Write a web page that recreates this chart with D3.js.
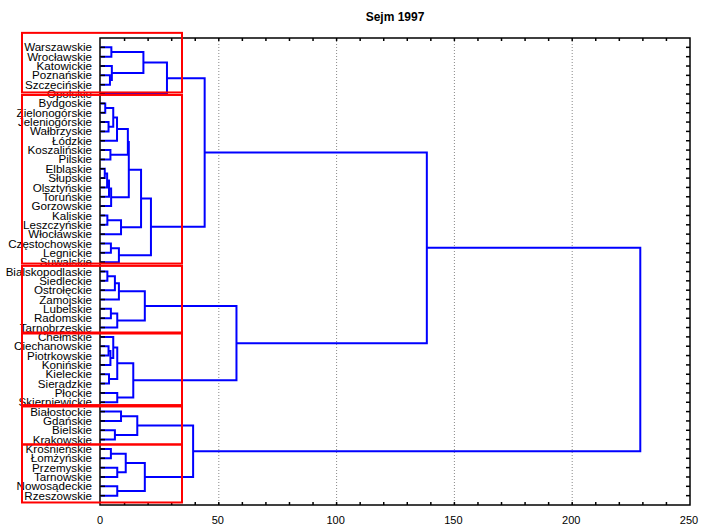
<!DOCTYPE html>
<html>
<head>
<meta charset="utf-8">
<script src="https://cdn.jsdelivr.net/npm/d3@7"></script>
<style>
body { margin: 0; background: #fff; }
text { font-family: "Liberation Sans", Arial, sans-serif; }
</style>
</head>
<body>
<div id="chartContainer"></div>
<script>
const width = 713;
const height = 525;
const marginTop = 38;
const marginRight = 23;
const marginBottom = 20;
const marginLeft = 100;

// leaf order top to bottom
const leaves = [
    "Warszawskie", "Wrocławskie", "Katowickie", "Poznańskie", "Szczecińskie",
    "Opolskie", "Bydgoskie", "Zielonogórskie", "Jeleniogórskie", "Wałbrzyskie",
    "Łódzkie", "Koszalińskie", "Pilskie", "Elbląskie", "Słupskie",
    "Olsztyńskie", "Toruńskie", "Gorzowskie", "Kaliskie", "Leszczyńskie",
    "Włocławskie", "Częstochowskie", "Legnickie", "Suwalskie", "Bialskopodlaskie",
    "Siedleckie", "Ostrołęckie", "Zamojskie", "Lubelskie", "Radomskie",
    "Tarnobrzeskie", "Chełmskie", "Ciechanowskie", "Piotrkowskie", "Konińskie",
    "Kieleckie", "Sieradzkie", "Płockie", "Skierniewickie", "Białostockie",
    "Gdańskie", "Bielskie", "Krakowskie", "Krośnieńskie", "Łomżyńskie",
    "Przemyskie", "Tarnowskie", "Nowosądeckie", "Rzeszowskie"
];

// linkage: [a, b, distance]; ids < 49 are leaves, merge k gets id 49 + k
const merges = [
    [0, 1, 4.4], [3, 4, 3.8], [2, 50, 4.6], [49, 51, 18.0], [52, 5, 28.0],
    [6, 7, 1.8], [8, 9, 3.2], [54, 55, 5.2], [56, 10, 6.8], [11, 12, 4.0],
    [57, 58, 11.4], [13, 14, 1.6], [60, 15, 2.6], [61, 16, 3.4], [62, 17, 4.3],
    [59, 63, 11.8], [18, 19, 2.7], [65, 20, 8.5], [64, 66, 17.0], [21, 22, 4.2],
    [68, 23, 7.6], [67, 69, 21.2], [53, 70, 44.0], [24, 25, 2.7], [72, 26, 5.9],
    [73, 27, 7.6], [28, 29, 4.2], [75, 30, 6.9], [74, 76, 18.6], [32, 33, 3.2],
    [78, 34, 4.0], [31, 79, 5.2], [35, 36, 3.4], [80, 81, 6.9], [37, 38, 6.9],
    [82, 83, 13.7], [77, 84, 57.5], [71, 85, 138.3], [39, 40, 8.5], [41, 42, 5.9],
    [87, 88, 15.4], [43, 44, 4.2], [45, 46, 6.9], [90, 91, 10.5], [47, 48, 6.9],
    [92, 93, 18.6], [89, 94, 39.1], [86, 95, 228.9]
];

// red group frames, in leaf-position units
const groups = [
    [-0.55, 5.83], [6.1, 24.15], [24.4, 31.53],
    [31.64, 39.3], [39.45, 43.52], [43.52, 49.73]
];

const xTicks = [0, 50, 100, 150, 200, 250];

const svg = d3.select("#chartContainer")
    .append("svg")
    .attr("width", width)
    .attr("height", height);

const xScale = d3.scaleLinear()
    .domain([0, 250])
    .range([marginLeft + 1, width - marginRight]);

const yScale = d3.scaleLinear()
    .domain([0, leaves.length + 1])
    .range([marginTop, height - marginBottom]);

const x0 = marginLeft, x1 = width - marginRight;
const y0 = marginTop, y1 = height - marginBottom;

// dotted grid
svg.append("g")
    .selectAll("line")
    .data(xTicks.slice(1, -1))
    .join("line")
    .attr("x1", d => xScale(d)).attr("x2", d => xScale(d))
    .attr("y1", y0).attr("y2", y1)
    .attr("stroke", "#888")
    .attr("stroke-dasharray", "1,2");

// dendrogram
const pos = leaves.map((d, i) => ({ x: xScale(0), y: yScale(i + 1) }));
merges.forEach(m => {
    const a = pos[m[0]], b = pos[m[1]];
    pos.push({ x: xScale(m[2]), y: (a.y + b.y) / 2, a: a, b: b });
});

svg.append("g")
    .selectAll("path")
    .data(pos.slice(leaves.length))
    .join("path")
    .attr("fill", "none")
    .attr("stroke", "#0000ff")
    .attr("stroke-width", 2)
    .attr("d", d => `M${d.a.x},${d.a.y}H${d.x}V${d.b.y}H${d.b.x}`);

// frame
svg.append("rect")
    .attr("x", x0).attr("y", y0)
    .attr("width", x1 - x0).attr("height", y1 - y0)
    .attr("fill", "none")
    .attr("stroke", "#000")
    .attr("stroke-width", 1.5);

// minor ticks top and bottom
const minor = d3.range(10, 250, 10);
svg.append("g")
    .selectAll("line")
    .data(minor)
    .join("line")
    .attr("x1", d => xScale(d)).attr("x2", d => xScale(d))
    .attr("y1", y0).attr("y2", y0 + 3)
    .attr("stroke", "#000").attr("stroke-width", 1.5);
svg.append("g")
    .selectAll("line")
    .data(minor)
    .join("line")
    .attr("x1", d => xScale(d)).attr("x2", d => xScale(d))
    .attr("y1", y1).attr("y2", y1 - 3)
    .attr("stroke", "#000").attr("stroke-width", 1.5);

// leaf ticks left and right
svg.append("g")
    .selectAll("line")
    .data(leaves)
    .join("line")
    .attr("x1", x0).attr("x2", x0 + 5)
    .attr("y1", (d, i) => yScale(i + 1)).attr("y2", (d, i) => yScale(i + 1))
    .attr("stroke", "#000").attr("stroke-width", 1.5);
svg.append("g")
    .selectAll("line")
    .data(leaves)
    .join("line")
    .attr("x1", x1).attr("x2", x1 - 4)
    .attr("y1", (d, i) => yScale(i + 1)).attr("y2", (d, i) => yScale(i + 1))
    .attr("stroke", "#000").attr("stroke-width", 1.5);

// leaf labels
svg.append("g")
    .selectAll("text")
    .data(leaves)
    .join("text")
    .attr("x", 92)
    .attr("y", (d, i) => yScale(i + 1))
    .attr("dy", "0.35em")
    .attr("text-anchor", "end")
    .style("font-size", "11.6px")
    .text(d => d);

// x tick labels
svg.append("g")
    .selectAll("text")
    .data(xTicks)
    .join("text")
    .attr("x", d => xScale(d) - 1)
    .attr("y", 524)
    .attr("text-anchor", "middle")
    .style("font-size", "11px")
    .text(d => d);

// group frames
svg.append("g")
    .selectAll("rect")
    .data(groups)
    .join("rect")
    .attr("x", 22)
    .attr("y", d => yScale(d[0]))
    .attr("width", 160)
    .attr("height", d => yScale(d[1]) - yScale(d[0]))
    .attr("fill", "none")
    .attr("stroke", "#ff0000")
    .attr("stroke-width", 2);

svg.append("text")
    .attr("x", (x0 + x1) / 2)
    .attr("y", 21)
    .attr("text-anchor", "middle")
    .style("font-size", "12px")
    .style("font-weight", "bold")
    .text("Sejm 1997");
</script>
</body>
</html>
